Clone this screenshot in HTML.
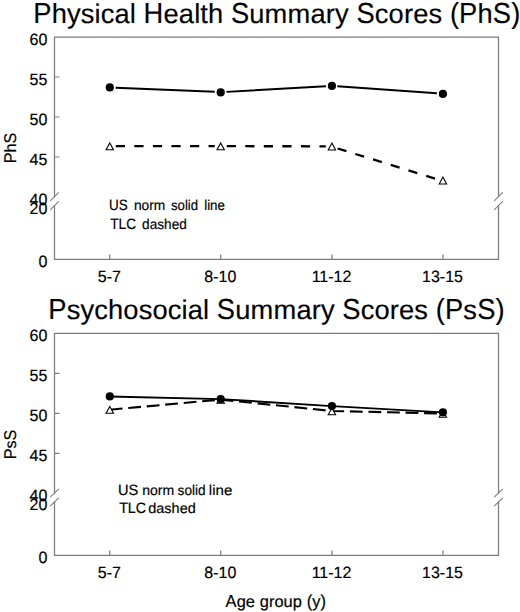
<!DOCTYPE html>
<html><head><meta charset="utf-8">
<style>
html,body{margin:0;padding:0;background:#fff;}
svg{display:block;}
text{font-family:"Liberation Sans",sans-serif;fill:#000;stroke:#000;stroke-width:0.18px;text-rendering:geometricPrecision;}
.t{stroke-width:0.15px;}
</style></head>
<body>
<svg width="520" height="612" viewBox="0 0 520 612">
<!-- plot 1 -->
<text transform="translate(0 23) scale(1 1.06)" font-size="27.3" x="33.3 143.58 230.9 356.46 449.89 459.07 492.78 511.16" y="0" class="t">PHSS(PS)</text>
<text transform="translate(0 23) scale(1 1.01)" font-size="27.3" x="51.68 129.8 194.13 200.26 207.91 477.45" y="0" class="t">hllthh</text>
<text transform="translate(0 23) scale(1 1.0)" font-size="27.3" x="67.01 335.03" y="0" class="t">yy</text>
<text transform="translate(0 23) scale(1 0.99)" font-size="27.3" x="80.79 94.57 100.69 114.47 163.48 178.81 249.28 264.61 287.56 310.52 325.85 374.84 388.62 403.95 413.13 428.46" y="0" class="t">sicaeaummarcores</text>
<g stroke="#7c7c7c" stroke-width="1.25" fill="none" stroke-linejoin="miter" stroke-linecap="square">
<path d="M54.5 196.6 V37.0 H498.5 V196.6"/>
<path d="M54.5 205.6 V259.4 H498.5 V205.6"/>
</g>
<g stroke="#7c7c7c" stroke-width="1.2" fill="none">
<path d="M54.5 77.0 h5 M54.5 117.0 h5 M54.5 157.0 h5"/>
<path d="M109.8 259.4 v-5 M220.7 259.4 v-5 M331.9 259.4 v-5 M442.9 259.4 v-5"/>
<path stroke-width="1.05" d="M50.2 200.8 L58.8 192.4 M50.2 209.8 L58.8 201.4 M494.2 200.8 L502.8 192.4 M494.2 209.8 L502.8 201.4 "/>
</g>
<text transform="translate(47.4 44.9) scale(1 1.02)" font-size="16" text-anchor="end">60</text>
<text transform="translate(47.4 84.9) scale(1 1.02)" font-size="16" text-anchor="end">55</text>
<text transform="translate(47.4 124.9) scale(1 1.02)" font-size="16" text-anchor="end">50</text>
<text transform="translate(47.4 164.9) scale(1 1.02)" font-size="16" text-anchor="end">45</text>
<text transform="translate(47.4 205.1) scale(1 1.02)" font-size="16" text-anchor="end">40</text>
<text transform="translate(47.4 213.8) scale(1 1.02)" font-size="16" text-anchor="end">20</text>
<text transform="translate(47.4 267.1) scale(1 1.02)" font-size="16" text-anchor="end">0</text>
<text transform="translate(109.4 281.7) scale(1 1.02)" font-size="16" text-anchor="middle">5-7</text>
<text transform="translate(220.3 281.7) scale(1 1.02)" font-size="16" text-anchor="middle">8-10</text>
<text transform="translate(331.5 281.7) scale(1 1.02)" font-size="16" text-anchor="middle">11-12</text>
<text transform="translate(442.5 281.7) scale(1 1.02)" font-size="16" text-anchor="middle">13-15</text>
<text transform="translate(15.7 148.0) rotate(-90) scale(1 1.06)" font-size="16.1" x="-15.22 4.48" y="0">PS</text>
<text transform="translate(15.7 148.0) rotate(-90) scale(1 1.01)" font-size="16.1" x="-4.48" y="0">h</text>
<text transform="translate(109.06 210) scale(0.95 1.06)" font-size="14.2" x="0.0 10.25" y="0">US</text>
<text transform="translate(133.94 210) scale(0.97 0.99)" font-size="14.2" x="0.0 7.9 15.79 20.52" y="0">norm</text>
<text transform="translate(170.98 210) scale(0.93 0.99)" font-size="14.2" x="0.0 7.1 18.15" y="0">soi</text>
<text transform="translate(170.98 210) scale(0.93 1.01)" font-size="14.2" x="15.0 21.31" y="0">ld</text>
<text transform="translate(204.20 210) scale(0.94 1.01)" font-size="14.2" x="0.0" y="0">l</text>
<text transform="translate(204.20 210) scale(0.94 0.99)" font-size="14.2" x="3.15 6.31 14.21" y="0">ine</text>
<text transform="translate(110.14 229) scale(0.97 1.06)" font-size="14.2" x="0.0 8.67 16.57" y="0">TLC</text>
<text transform="translate(142.08 229) scale(0.96 1.01)" font-size="14.2" x="0.0 22.89 38.69" y="0">dhd</text>
<text transform="translate(142.08 229) scale(0.96 0.99)" font-size="14.2" x="7.9 15.79 30.79" y="0">ase</text>
<g stroke="#000" stroke-width="2.3" fill="none" stroke-linecap="butt">
<path stroke-width="1.9" d="M115.6 87.8 L214.7 91.8 M226.4 91.9 L325.9 86.2 M337.3 86.3 L436.9 93.2"/>
<path stroke-dasharray="9.2 9.35" d="M115.8 146.2 L214.7 146.2"/>
<path stroke-dasharray="9.2 9.35" d="M226.7 146.2 L325.8 146.3"/>
<path stroke-dasharray="9.2 9.35" d="M337.6 148.5 L437.2 179.3"/>
</g>
<g fill="#000">
<circle cx="109.8" cy="87.4" r="4.1"/>
<circle cx="220.7" cy="92.4" r="4.1"/>
<circle cx="331.9" cy="85.9" r="4.1"/>
<circle cx="442.9" cy="93.9" r="4.1"/>
</g>
<g fill="#fff" stroke="#000" stroke-width="1.1">
<path d="M109.8 142.9 L113.5 149.8 L106.1 149.8 Z"/>
<path d="M220.7 142.9 L224.4 149.8 L217.0 149.8 Z"/>
<path d="M331.9 143.1 L335.6 150.0 L328.2 150.0 Z"/>
<path d="M442.9 177.1 L446.6 184.0 L439.2 184.0 Z"/>
</g>
<!-- plot 2 -->
<text transform="translate(0 319) scale(1 1.06)" font-size="27.3" x="48.3 216.79 342.36 435.79 444.96 477.13 495.51" y="0" class="t">PSS(PS)</text>
<text transform="translate(0 319) scale(1 0.99)" font-size="27.3" x="66.68 94.24 123.35 138.68 152.45 167.78 181.56 187.68 235.17 250.5 273.46 296.41 311.74 360.74 374.52 389.84 399.02 414.35 463.35" y="0" class="t">scosociaummarcoress</text>
<text transform="translate(0 319) scale(1 1.0)" font-size="27.3" x="80.46 320.92" y="0" class="t">yy</text>
<text transform="translate(0 319) scale(1 1.01)" font-size="27.3" x="108.02 203.01" y="0" class="t">hl</text>
<g stroke="#7c7c7c" stroke-width="1.25" fill="none" stroke-linejoin="miter" stroke-linecap="square">
<path d="M54.5 493.0 V333.35 H498.5 V493.0"/>
<path d="M54.5 502.0 V555.4 H498.5 V502.0"/>
</g>
<g stroke="#7c7c7c" stroke-width="1.2" fill="none">
<path d="M54.5 373.35 h5 M54.5 413.35 h5 M54.5 453.35 h5"/>
<path d="M109.8 555.4 v-5 M220.7 555.4 v-5 M331.9 555.4 v-5 M442.9 555.4 v-5"/>
<path stroke-width="1.05" d="M50.2 497.2 L58.8 488.8 M50.2 506.2 L58.8 497.8 M494.2 497.2 L502.8 488.8 M494.2 506.2 L502.8 497.8 "/>
</g>
<text transform="translate(47.4 341.25) scale(1 1.02)" font-size="16" text-anchor="end">60</text>
<text transform="translate(47.4 381.25) scale(1 1.02)" font-size="16" text-anchor="end">55</text>
<text transform="translate(47.4 421.25) scale(1 1.02)" font-size="16" text-anchor="end">50</text>
<text transform="translate(47.4 461.25) scale(1 1.02)" font-size="16" text-anchor="end">45</text>
<text transform="translate(47.4 501.1) scale(1 1.02)" font-size="16" text-anchor="end">40</text>
<text transform="translate(47.4 510.2) scale(1 1.02)" font-size="16" text-anchor="end">20</text>
<text transform="translate(47.4 563.1) scale(1 1.02)" font-size="16" text-anchor="end">0</text>
<text transform="translate(109.4 577.7) scale(1 1.02)" font-size="16" text-anchor="middle">5-7</text>
<text transform="translate(220.3 577.7) scale(1 1.02)" font-size="16" text-anchor="middle">8-10</text>
<text transform="translate(331.5 577.7) scale(1 1.02)" font-size="16" text-anchor="middle">11-12</text>
<text transform="translate(442.5 577.7) scale(1 1.02)" font-size="16" text-anchor="middle">13-15</text>
<text transform="translate(16.0 444.4) rotate(-90) scale(1 1.06)" font-size="16.1" x="-14.76 4.03" y="0">PS</text>
<text transform="translate(16.0 444.4) rotate(-90) scale(1 0.99)" font-size="16.1" x="-4.03" y="0">s</text>
<text transform="translate(117.98 495) scale(1.03 1.06)" font-size="14.2" x="0.0 10.25" y="0">US</text>
<text transform="translate(142.16 495) scale(0.99 0.99)" font-size="14.2" x="0.0 7.9 15.79 20.52" y="0">norm</text>
<text transform="translate(177.57 495) scale(0.96 0.99)" font-size="14.2" x="0.0 7.1 18.15" y="0">soi</text>
<text transform="translate(177.57 495) scale(0.96 1.01)" font-size="14.2" x="15.0 21.31" y="0">ld</text>
<text transform="translate(208.83 495) scale(1.06 1.01)" font-size="14.2" x="0.0" y="0">l</text>
<text transform="translate(208.83 495) scale(1.06 0.99)" font-size="14.2" x="3.15 6.31 14.21" y="0">ine</text>
<text transform="translate(119.13 513) scale(1.01 1.06)" font-size="14.2" x="0.0 8.67 16.57" y="0">TLC</text>
<text transform="translate(148.24 513) scale(1.02 1.01)" font-size="14.2" x="0.0 22.89 38.69" y="0">dhd</text>
<text transform="translate(148.24 513) scale(1.02 0.99)" font-size="14.2" x="7.9 15.79 30.79" y="0">ase</text>
<g stroke="#000" stroke-width="2.3" fill="none">
<path stroke-width="1.9" d="M109.8 396.5 L220.7 399.1 L331.9 406.1 L442.9 412.4"/>
<path stroke-width="2.1" stroke-dasharray="12.8 5.75" d="M109.8 409.7 L220.7 399.6 L331.9 411.0 L442.9 413.5"/>
</g>
<g fill="#fff" stroke="#000" stroke-width="1.1">
<path d="M109.8 406.5 L113.5 413.2 L106.1 413.2 Z"/>
<path d="M220.7 396.4 L224.4 403.1 L217.0 403.1 Z"/>
<path d="M331.9 408.1 L335.6 414.8 L328.2 414.8 Z"/>
<path d="M442.9 410.6 L446.6 417.3 L439.2 417.3 Z"/>
</g>
<g fill="#000">
<circle cx="109.8" cy="396.4" r="4.1"/>
<circle cx="220.7" cy="399.1" r="4.1"/>
<circle cx="331.9" cy="406.1" r="4.1"/>
<circle cx="442.9" cy="412.3" r="4.1"/>
</g>
<text transform="translate(0 607) scale(1 1.06)" font-size="16.4" x="225.6 306.64 320.44" y="0">A()</text>
<text transform="translate(0 607) scale(1 1.0)" font-size="16.4" x="236.65 259.67 292.83 312.16" y="0">ggpy</text>
<text transform="translate(0 607) scale(1 0.99)" font-size="16.4" x="245.86 268.89 274.4 283.61" y="0">erou</text>
</svg>
</body></html>
